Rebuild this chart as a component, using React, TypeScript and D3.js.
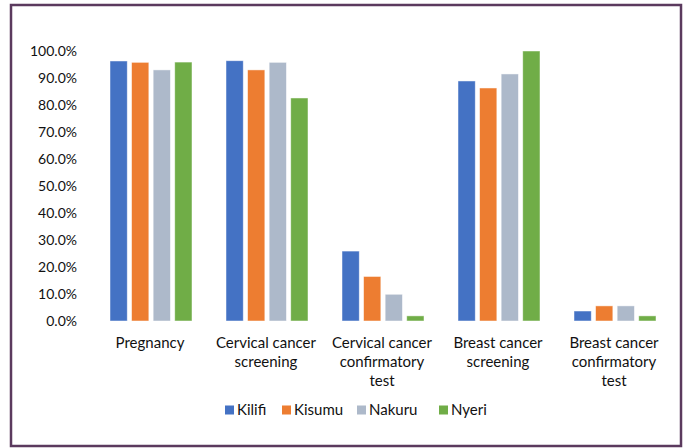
import { useEffect, useRef } from 'react';
import * as d3 from 'd3';

const categories = [
  ['Pregnancy'],
  ['Cervical cancer', 'screening'],
  ['Cervical cancer', 'confirmatory', 'test'],
  ['Breast cancer', 'screening'],
  ['Breast cancer', 'confirmatory', 'test'],
];
const counties = ['Kilifi', 'Kisumu', 'Nakuru', 'Nyeri'];
const colors = ['#4472c4', '#ed7d31', '#adb9ca', '#70ad47'];

const kilifi = [96.3, 96.4, 25.9, 88.9, 3.7];
const kisumu = [95.8, 93.0, 16.5, 86.3, 5.6];
const nakuru = [93.0, 95.8, 9.9, 91.5, 5.6];
const nyeri = [95.9, 82.6, 1.9, 100.0, 1.9];
const series = [kilifi, kisumu, nakuru, nyeri];

const yTicks = [0, 10, 20, 30, 40, 50, 60, 70, 80, 90, 100];

const FONT = 'Lato, "Open Sans", sans-serif';

export default function App() {
  const ref = useRef<SVGSVGElement>(null);

  useEffect(() => {
    if (!ref.current) return;
    const svg = d3.select(ref.current);
    svg.selectAll('*').remove();

    // outer frame
    svg.append('rect')
      .attr('x', 11).attr('y', 5)
      .attr('width', 670).attr('height', 441)
      .attr('fill', 'white')
      .attr('stroke', '#5b3a5e')
      .attr('stroke-width', 2.5);

    const x0 = d3.scaleBand<number>()
      .domain(d3.range(categories.length))
      .range([92, 672])
      .paddingInner(0)
      .paddingOuter(0);

    const x1 = d3.scaleBand<number>()
      .domain(d3.range(counties.length))
      .range([18, 100])
      .paddingInner(0.2);

    const y = d3.scaleLinear().domain([0, 100]).range([321, 51]);

    // y labels
    svg.append('g')
      .selectAll('text')
      .data(yTicks)
      .join('text')
      .attr('x', 77)
      .attr('y', d => y(d))
      .attr('dy', '0.35em')
      .attr('text-anchor', 'end')
      .attr('font-family', FONT)
      .attr('font-size', 14)
      .attr('fill', '#111')
      .text(d => d.toFixed(1) + '%');

    // bars
    const groups = svg.append('g')
      .selectAll('g')
      .data(categories.map((_, i) => i))
      .join('g')
      .attr('transform', i => `translate(${x0(i)},0)`);

    groups.selectAll('rect')
      .data(i => series.map((s, k) => ({ k, v: s[i] })))
      .join('rect')
      .attr('x', d => x1(d.k)!)
      .attr('y', d => y(d.v))
      .attr('width', x1.bandwidth())
      .attr('height', d => y(0) - y(d.v))
      .attr('fill', d => colors[d.k])
      .attr('stroke', 'white')
      .attr('stroke-opacity', 0.6)
      .attr('stroke-width', 0.8);

    // category labels
    const lab = svg.append('g')
      .selectAll('text')
      .data(categories)
      .join('text')
      .attr('text-anchor', 'middle')
      .attr('font-family', FONT)
      .attr('font-size', 15)
      .attr('fill', '#111');
    lab.each(function (lines, i) {
      const cx = x0(i)! + x0.bandwidth() / 2;
      d3.select(this)
        .selectAll('tspan')
        .data(lines)
        .join('tspan')
        .attr('x', cx)
        .attr('y', (_, j) => 348 + j * 19)
        .text(d => d);
    });

    // legend
    const legendX = [225, 282, 357, 439];
    const leg = svg.append('g')
      .selectAll('g')
      .data(counties)
      .join('g')
      .attr('transform', (_, i) => `translate(${legendX[i]},410)`);
    leg.append('rect')
      .attr('x', 0).attr('y', -4.5)
      .attr('width', 9).attr('height', 9)
      .attr('fill', (_, i) => colors[i]);
    leg.append('text')
      .attr('x', 12)
      .attr('y', 0)
      .attr('dy', '0.35em')
      .attr('font-family', FONT)
      .attr('font-size', 15)
      .attr('fill', '#111')
      .text(d => d);
  }, []);

  return (
    <svg
      ref={ref}
      width={688}
      height={448}
      style={{ position: 'absolute', left: 0, top: 0, display: 'block' }}
    />
  );
}
